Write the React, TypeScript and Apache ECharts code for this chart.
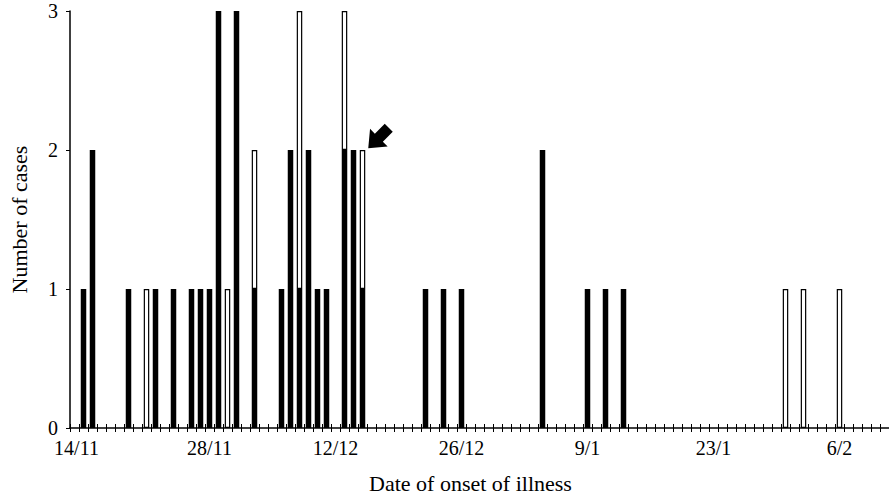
import { useEffect, useRef } from 'react';
import * as echarts from 'echarts';

// Day-by-day category axis: 13/11 .. 11/2
const DAY_RANGES = [
  { month: 11, from: 13, to: 30 },
  { month: 12, from: 1, to: 31 },
  { month: 1, from: 1, to: 31 },
  { month: 2, from: 1, to: 11 },
];
const dates: string[] = [];
for (const r of DAY_RANGES) for (let d = r.from; d <= r.to; d++) dates.push(`${d}/${r.month}`);

const TICK_LABELS = ['14/11', '28/11', '12/12', '26/12', '9/1', '23/1', '6/2'];

// Filled (black) bars
const blackDates = [
  '14/11', '15/11', '19/11', '22/11', '24/11', '26/11', '27/11', '28/11', '29/11',
  '1/12', '3/12', '6/12', '7/12', '8/12', '9/12', '10/12', '11/12', '13/12', '14/12', '15/12',
  '22/12', '24/12', '26/12', '4/1', '9/1', '11/1', '13/1',
];
const blackCounts = [
  1, 2, 1, 1, 1, 1, 1, 1, 3,
  3, 1, 1, 2, 1, 2, 1, 1, 2, 2, 1,
  1, 1, 1, 2, 1, 1, 1,
];

// Open (white) bars
const whiteDates = ['21/11', '30/11', '3/12', '8/12', '13/12', '15/12', '31/1', '2/2', '6/2'];
const whiteCounts = [1, 1, 1, 2, 1, 1, 1, 1, 1];

const ARROW_DATE = '15/12';
const ARROW_VALUE = 2;

const FONT = 'Liberation Serif';

function toSeries(ds: string[], vs: number[]) {
  const m: Record<string, number> = {};
  ds.forEach((d, i) => (m[d] = vs[i]));
  return dates.map((d) => (m[d] !== undefined ? m[d] : null));
}

export default function App() {
  const ref = useRef<HTMLDivElement>(null);
  useEffect(() => {
    if (!ref.current) return;
    const chart = echarts.init(ref.current, undefined, { renderer: 'svg' });
    const arrowPath =
      'path://M0,25 L1.8,5.6 L6.6,10.4 L16.5,0.5 L24.5,8.5 L14.6,18.4 L19.4,23.2 Z';
    chart.setOption({
      animation: false,
      backgroundColor: '#fff',
      textStyle: { fontFamily: FONT, color: '#000' },
      grid: { left: 62, right: 0, top: 11, bottom: 64 },
      xAxis: [
        {
          type: 'category',
          data: dates,
          position: 'bottom',
          axisLine: { lineStyle: { color: '#000', width: 1.5 } },
          axisTick: { show: true, interval: 0, length: 4, lineStyle: { color: '#000', width: 1 } },
          axisLabel: {
            interval: (_i: number, v: string) => TICK_LABELS.includes(v),
            formatter: (v: string) => (v === TICK_LABELS[0] ? `{first|${v}}` : v),
            rich: { first: { fontFamily: FONT, fontSize: 20, color: '#000', padding: [0, 14, 0, 0] } },
            fontFamily: FONT,
            fontSize: 20,
            color: '#000',
            margin: 10,
          },
          name: 'Date of onset of illness',
          nameLocation: 'middle',
          nameGap: 44,
          nameTextStyle: { fontFamily: FONT, fontSize: 22, color: '#000', padding: [0, 18, 0, 0] },
        },
        {
          type: 'category',
          data: dates,
          position: 'bottom',
          axisLine: { show: false },
          axisTick: { show: true, inside: true, interval: 0, length: 4, lineStyle: { color: '#000', width: 1 } },
          axisLabel: { show: false },
        },
      ],
      yAxis: {
        type: 'value',
        min: 0,
        max: 3,
        interval: 1,
        splitLine: { show: false },
        axisLine: { show: true, lineStyle: { color: '#000', width: 1.5 } },
        axisTick: { show: true, length: 4, lineStyle: { color: '#000' } },
        axisLabel: { fontFamily: FONT, fontSize: 20, color: '#000', margin: 12 },
        name: 'Number of cases',
        nameLocation: 'middle',
        nameRotate: 90,
        nameGap: 40,
        nameTextStyle: { fontFamily: FONT, fontSize: 22, color: '#000' },
      },
      series: [
        {
          type: 'bar',
          stack: 'cases',
          data: toSeries(blackDates, blackCounts),
          barWidth: 5.5,
          itemStyle: { color: '#000' },
        },
        {
          type: 'bar',
          stack: 'cases',
          data: toSeries(whiteDates, whiteCounts),
          barWidth: 5.5,
          itemStyle: { color: '#fff', borderColor: '#000', borderWidth: 1.2 },
          markPoint: {
            symbol: arrowPath,
            symbolSize: [24.5, 24.5],
            symbolOffset: [18, -14],
            itemStyle: { color: '#000' },
            label: { show: false },
            data: [{ coord: [ARROW_DATE, ARROW_VALUE] }],
          },
        },
      ],
    });
    return () => chart.dispose();
  }, []);
  return (
    <div
      ref={ref}
      style={{ position: 'fixed', left: 0, top: 0, width: 889, height: 499, background: '#fff' }}
    />
  );
}
